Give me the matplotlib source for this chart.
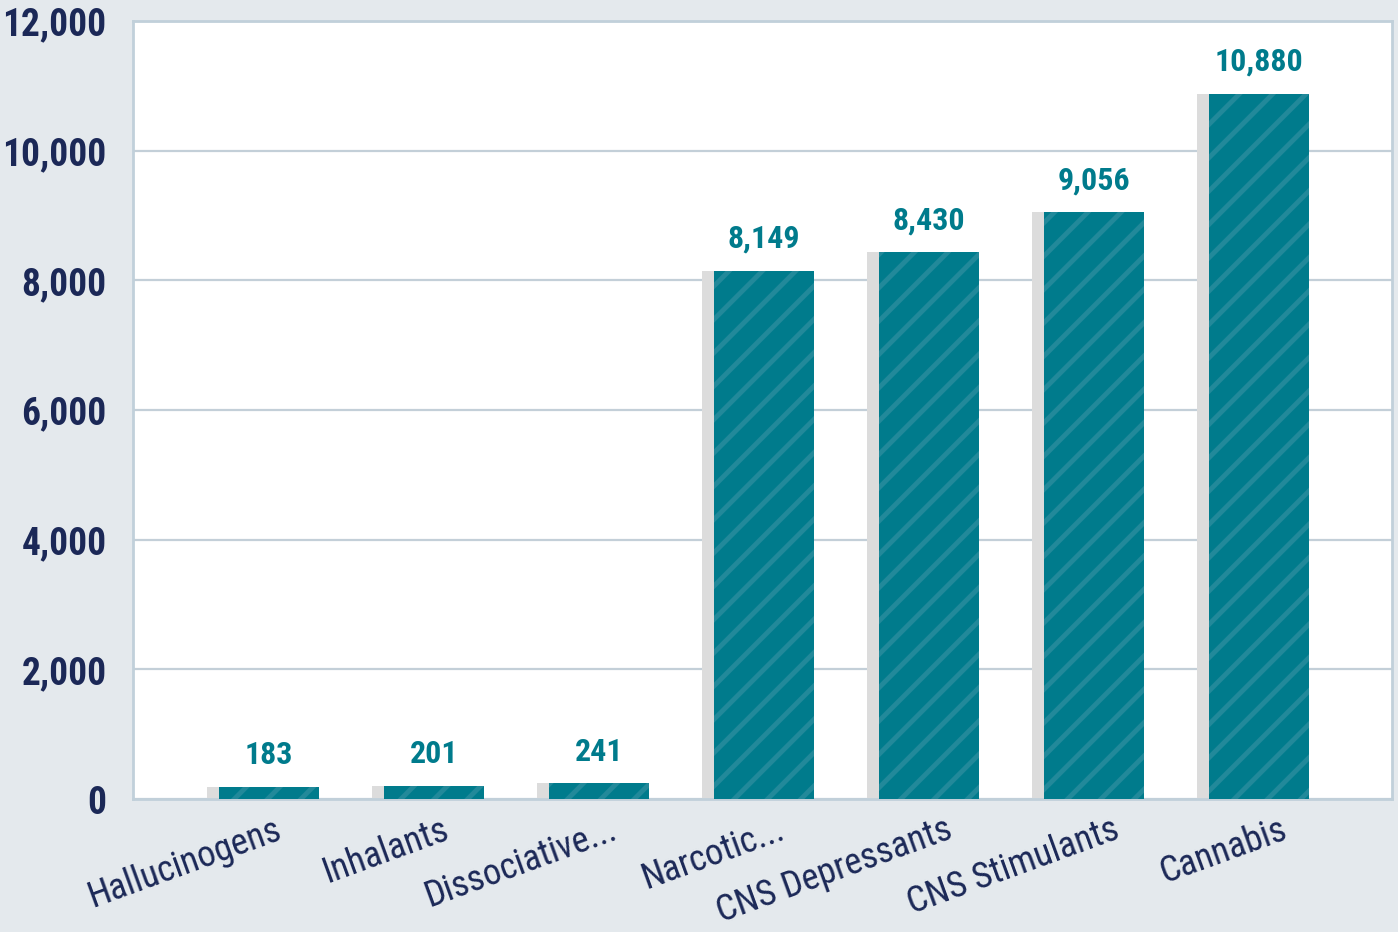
import numpy as np
import matplotlib.pyplot as plt
import matplotlib.transforms as mtransforms

categories = ['Hallucinogens', 'Inhalants', 'Dissociative...', 'Narcotic...',
              'CNS Depressants', 'CNS Stimulants', 'Cannabis']
values = [183, 201, 241, 8149, 8430, 9056, 10880]
yticks = [0, 2000, 4000, 6000, 8000, 10000, 12000]

navy = '#1b2857'
teal = '#007b8c'

plt.rcParams['font.family'] = ['Roboto Condensed', 'DejaVu Sans']
plt.rcParams['hatch.linewidth'] = 3.5

fig = plt.figure(figsize=(13.98, 9.32), dpi=100)
fig.patch.set_facecolor('#e4e9ed')
ax = fig.add_axes([133 / 1398, 1 - 799 / 932, 1259 / 1398, 778 / 932])
ax.set_facecolor('white')

x = np.arange(len(categories))
w = 0.606
shift = 12 / 165

# grey shadow sitting just left of each bar
ax.bar(x - shift, values, width=w, color='#dcdcdc', zorder=2)
ax.bar(x, values, width=w, color=teal, hatch='/',
       edgecolor='#22899a', linewidth=0, zorder=3)

for xi, v in zip(x, values):
    ax.annotate(f'{v:,}', (xi, v), xytext=(0, 12), textcoords='offset points',
                ha='center', va='bottom', fontsize=23, fontweight='bold',
                color=teal)

ax.set_xlim(-0.824, 6.806)
ax.set_ylim(0, 12000)
ax.set_yticks(yticks)
ax.set_yticklabels([f'{t:,}' for t in yticks], fontsize=27,
                   fontweight='bold', color=navy)
ax.tick_params(axis='y', length=0, pad=19)
ax.grid(axis='y', color='#c3cfd8', linewidth=1.6, zorder=0)
ax.set_axisbelow(True)

ax.set_xticks(x)
ax.set_xticklabels(categories, rotation=20, ha='right', va='top',
                   rotation_mode='anchor', fontsize=26, fontweight='normal',
                   color=navy)
ax.tick_params(axis='x', length=0, pad=9)
for i, lab in enumerate(ax.get_xticklabels()):
    dx = (5 + 2.6 * i) / 100
    lab.set_transform(lab.get_transform() +
                      mtransforms.ScaledTranslation(dx, 0, fig.dpi_scale_trans))

for sp in ax.spines.values():
    sp.set_color('#c1d0da')
    sp.set_linewidth(2)

fig.savefig('out.png', dpi=100, facecolor=fig.get_facecolor())
